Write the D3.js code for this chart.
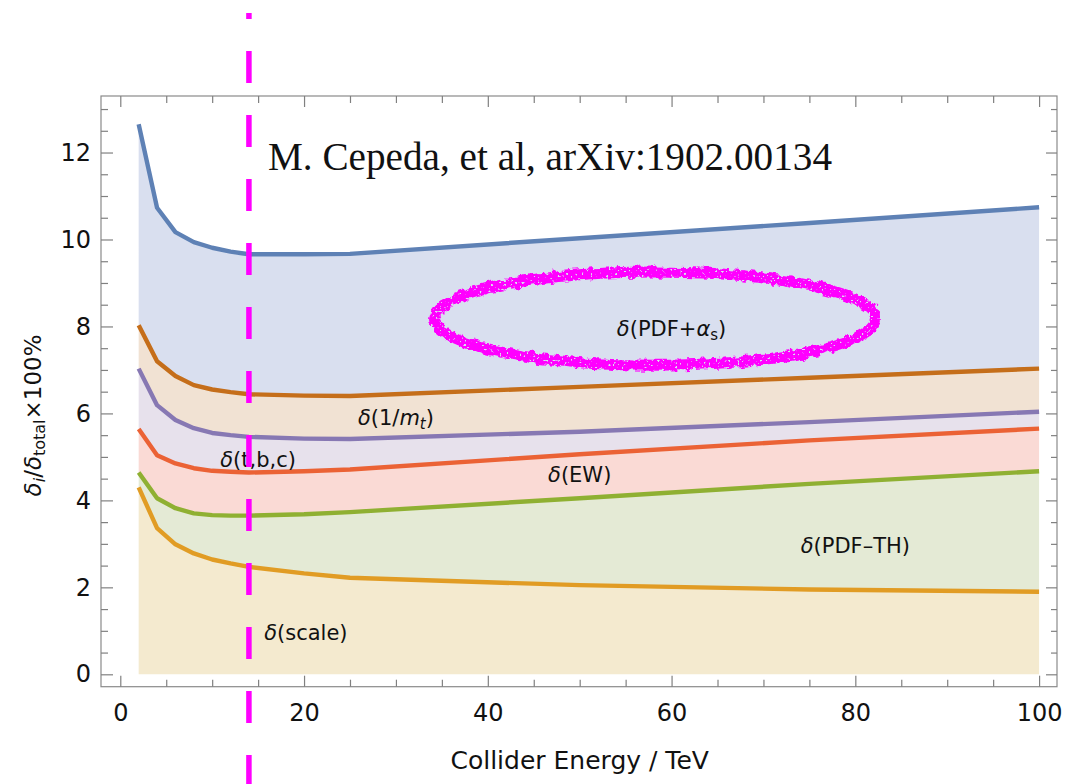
<!DOCTYPE html>
<html>
<head>
<meta charset="utf-8">
<script src="https://cdn.jsdelivr.net/npm/d3@7"></script>
<style>
  body { margin: 0; background: #fff; }
  svg { display: block; }
</style>
</head>
<body>
<svg id="chart" width="1066" height="784"></svg>
<script>
// Collider energy (TeV) and the cumulative share of each uncertainty source (%)
const energies  = [2, 4, 6, 8, 10, 12, 14, 20, 25, 50, 75, 100];
const pdfAlphaS = [12.65, 10.73, 10.17, 9.94, 9.81, 9.72, 9.66, 9.66, 9.67, 10.03, 10.38, 10.74];
const invMt     = [8.03, 7.20, 6.86, 6.65, 6.55, 6.49, 6.44, 6.41, 6.40, 6.61, 6.82, 7.03];
const tbc       = [7.03, 6.19, 5.85, 5.66, 5.55, 5.50, 5.46, 5.42, 5.41, 5.58, 5.80, 6.04];
const ew        = [5.64, 5.04, 4.85, 4.74, 4.68, 4.66, 4.64, 4.67, 4.71, 5.06, 5.38, 5.65];
const pdfTh     = [4.64, 4.05, 3.82, 3.70, 3.66, 3.65, 3.65, 3.68, 3.73, 4.05, 4.38, 4.67];
const scaleUnc  = [4.30, 3.36, 2.99, 2.78, 2.64, 2.55, 2.47, 2.32, 2.22, 2.05, 1.95, 1.90];

const xTickValues = [0, 20, 40, 60, 80, 100];
const yTickValues = [0, 2, 4, 6, 8, 10, 12];
const lhcEnergy = 14;
const citation = "M. Cepeda, et al, arXiv:1902.00134";

// top-to-bottom order of the stacked curves
const series = [
  { values: pdfAlphaS, line: "#5e81b5", fill: "#d9dfef" },
  { values: invMt,     line: "#c56e1a", fill: "#f1e2d3" },
  { values: tbc,       line: "#8778b3", fill: "#e7e1ec" },
  { values: ew,        line: "#eb6235", fill: "#fadad5" },
  { values: pdfTh,     line: "#8fb032", fill: "#e4ead5" },
  { values: scaleUnc,  line: "#e19c24", fill: "#f4eacf" }
];

// band captions: [text, style] pieces; style i = italic, sub = subscript
const bandLabels = [
  { at: [60, 7.79], parts: [["δ", "i"], ["(PDF+", ""], ["α", "i"], ["s", "sub"], [")", ""]] },
  { at: [30, 5.74], parts: [["δ", "i"], ["(1/", ""], ["m", "i"], ["t", "subi"], [")", ""]] },
  { at: [15, 4.76], parts: [["δ", "i"], ["(t,b,c)", ""]] },
  { at: [50, 4.43], parts: [["δ", "i"], ["(EW)", ""]] },
  { at: [80, 2.80], parts: [["δ", "i"], ["(PDF\u2013TH)", ""]] },
  { at: [20.2, 0.79], parts: [["δ", "i"], ["(scale)", ""]] }
];

const svg = d3.select("#chart");
svg.append("rect").attr("width", 1066).attr("height", 784).attr("fill", "#fff");

const x = d3.scaleLinear().domain([-2.1, 101.95]).range([101, 1057]);
const y = d3.scaleLinear().domain([-0.285, 13.3]).range([686.7, 96]);

// brush-like roughness for the highlight ring
const defs = svg.append("defs");
const rough = defs.append("filter").attr("id", "rough")
  .attr("x", "-10%").attr("y", "-60%").attr("width", "120%").attr("height", "220%");
rough.append("feTurbulence").attr("type", "fractalNoise")
  .attr("baseFrequency", "0.14").attr("numOctaves", 2).attr("seed", 7).attr("result", "noise");
rough.append("feDisplacementMap").attr("in", "SourceGraphic").attr("in2", "noise")
  .attr("scale", 8).attr("xChannelSelector", "R").attr("yChannelSelector", "G").attr("result", "disp");
rough.append("feTurbulence").attr("type", "fractalNoise")
  .attr("baseFrequency", "0.45").attr("numOctaves", 1).attr("seed", 3).attr("result", "fine");
rough.append("feColorMatrix").attr("in", "fine").attr("type", "matrix")
  .attr("values", "0 0 0 0 0  0 0 0 0 0  0 0 0 0 0  0 0 0 -14 10").attr("result", "holes");
rough.append("feComposite").attr("in", "disp").attr("in2", "holes").attr("operator", "in");

const plot = svg.append("g");

// filled bands between consecutive curves, the lowest one down to zero
series.forEach((s, k) => {
  const below = series[k + 1] ? series[k + 1].values : null;
  const area = d3.area()
    .x((d, i) => x(energies[i]))
    .y1(d => y(d))
    .y0((d, i) => y(below ? below[i] : 0));
  plot.append("path").datum(s.values)
    .attr("d", area).attr("fill", s.fill).attr("stroke", "none");
});

series.forEach(s => {
  const line = d3.line().x((d, i) => x(energies[i])).y(d => y(d));
  plot.append("path").datum(s.values)
    .attr("d", line).attr("fill", "none")
    .attr("stroke", s.line).attr("stroke-width", 4.4)
    .attr("stroke-linejoin", "round").attr("stroke-linecap", "butt");
});

// band captions
const labelFont = "'DejaVu Sans', Verdana, sans-serif";
bandLabels.forEach(lb => {
  const t = plot.append("text")
    .attr("x", x(lb.at[0])).attr("y", y(lb.at[1]))
    .attr("text-anchor", "middle")
    .attr("font-family", labelFont).attr("font-size", 21).attr("fill", "#111");
  lb.parts.forEach(([txt, st]) => {
    const sp = t.append("tspan").text(txt);
    if (st === "i" || st === "subi") sp.attr("font-style", "italic");
    if (st === "sub" || st === "subi") {
      sp.attr("font-size", 15).attr("baseline-shift", "-25%");
    }
  });
});

// citation
svg.append("text")
  .attr("x", 268).attr("y", 170)
  .attr("font-family", "'Liberation Serif', 'Times New Roman', serif")
  .attr("font-size", 39).attr("fill", "#111")
  .attr("textLength", 564).attr("lengthAdjust", "spacingAndGlyphs")
  .text(citation);

// hand-drawn highlight round the PDF+alpha_s caption
svg.append("ellipse")
  .attr("cx", x(58.2)).attr("cy", y(8.18))
  .attr("rx", x(58.2 + 24) - x(58.2)).attr("ry", y(8.18) - y(8.18 + 1.07))
  .attr("fill", "none").attr("stroke", "#ff00ff").attr("stroke-width", 11)
  .attr("filter", "url(#rough)");

// frame
svg.append("rect")
  .attr("x", x.range()[0]).attr("y", y.range()[1])
  .attr("width", x.range()[1] - x.range()[0])
  .attr("height", y.range()[0] - y.range()[1])
  .attr("fill", "none").attr("stroke", "#8a8a8a").attr("stroke-width", 1.2);

const axisFont = "'DejaVu Sans', Verdana, sans-serif";
const xMinor = d3.range(5, 100, 5).filter(v => v % 20 !== 0);
const yMinor = d3.range(0.5, 13.3, 0.5).filter(v => v % 2 !== 0);

function styleAxis(g, withText) {
  g.select(".domain").remove();
  g.selectAll(".tick line").attr("stroke", "#808080").attr("stroke-width", 1.2);
  if (withText) {
    g.selectAll(".tick text").attr("font-family", axisFont)
      .attr("font-size", 24).attr("fill", "#111");
  }
}

const yBot = y.range()[0], yTop = y.range()[1];
const xLeft = x.range()[0], xRight = x.range()[1];

svg.append("g").attr("transform", `translate(0,${yBot})`)
  .call(d3.axisBottom(x).tickValues(xTickValues).tickSize(-11).tickSizeOuter(0).tickPadding(17))
  .call(g => styleAxis(g, true));
svg.append("g").attr("transform", `translate(0,${yBot})`)
  .call(d3.axisBottom(x).tickValues(xMinor).tickSize(-7).tickSizeOuter(0).tickFormat(""))
  .call(g => styleAxis(g, false));
svg.append("g").attr("transform", `translate(0,${yTop})`)
  .call(d3.axisTop(x).tickValues(xTickValues).tickSize(-11).tickSizeOuter(0).tickFormat(""))
  .call(g => styleAxis(g, false));
svg.append("g").attr("transform", `translate(0,${yTop})`)
  .call(d3.axisTop(x).tickValues(xMinor).tickSize(-7).tickSizeOuter(0).tickFormat(""))
  .call(g => styleAxis(g, false));

svg.append("g").attr("transform", `translate(${xLeft},0)`)
  .call(d3.axisLeft(y).tickValues(yTickValues).tickSize(-12).tickSizeOuter(0).tickPadding(10))
  .call(g => styleAxis(g, true));
svg.append("g").attr("transform", `translate(${xLeft},0)`)
  .call(d3.axisLeft(y).tickValues(yMinor).tickSize(-7).tickSizeOuter(0).tickFormat(""))
  .call(g => styleAxis(g, false));
svg.append("g").attr("transform", `translate(${xRight},0)`)
  .call(d3.axisRight(y).tickValues(yTickValues).tickSize(-11).tickSizeOuter(0).tickFormat(""))
  .call(g => styleAxis(g, false));
svg.append("g").attr("transform", `translate(${xRight},0)`)
  .call(d3.axisRight(y).tickValues(yMinor).tickSize(-6).tickSizeOuter(0).tickFormat(""))
  .call(g => styleAxis(g, false));

// axis titles
svg.append("text")
  .attr("x", (x(0) + x(100)) / 2).attr("y", 769)
  .attr("text-anchor", "middle")
  .attr("font-family", axisFont).attr("font-size", 25).attr("fill", "#111")
  .text("Collider Energy / TeV");

const yTitle = svg.append("text")
  .attr("transform", `translate(41,${(y(0) + y(12)) / 2 + 2}) rotate(-90)`)
  .attr("text-anchor", "middle")
  .attr("font-family", axisFont).attr("font-size", 23).attr("fill", "#111");
yTitle.append("tspan").attr("font-style", "italic").text("δ");
yTitle.append("tspan").attr("font-style", "italic").attr("font-size", 16).attr("baseline-shift", "-25%").text("i");
yTitle.append("tspan").text("/");
yTitle.append("tspan").attr("font-style", "italic").text("δ");
yTitle.append("tspan").attr("font-size", 16).attr("baseline-shift", "-25%").text("total");
yTitle.append("tspan").text("×100%");

// LHC energy marker
svg.append("line")
  .attr("x1", x(lhcEnergy)).attr("x2", x(lhcEnergy))
  .attr("y1", 13).attr("y2", 784)
  .attr("stroke", "#ff00ff").attr("stroke-width", 5.5)
  .attr("stroke-dasharray", "32 32").attr("stroke-dashoffset", 26);
</script>
</body>
</html>
